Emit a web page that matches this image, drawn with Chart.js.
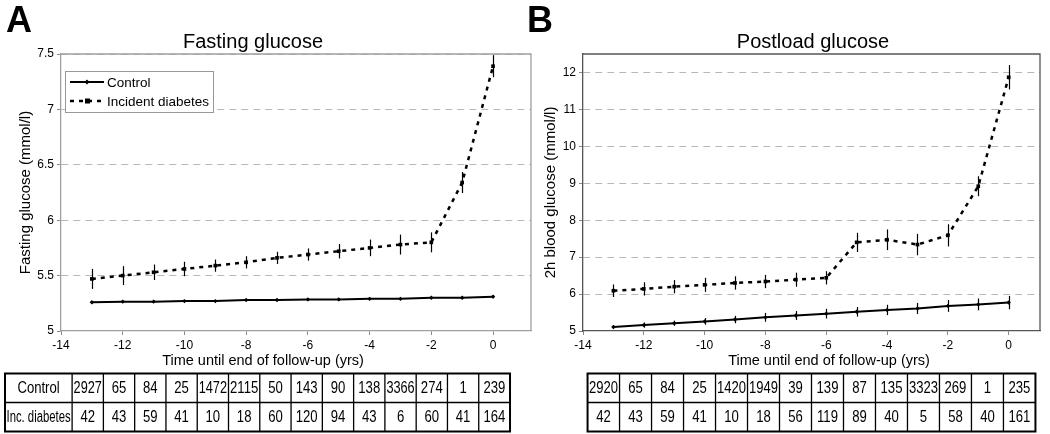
<!DOCTYPE html>
<html>
<head>
<meta charset="utf-8">
<script src="https://cdn.jsdelivr.net/npm/chart.js@4"></script>
<style>
  body { margin: 0; background: #fff; width: 1050px; height: 434px; position: relative; overflow: hidden; }
  #wrapA { position: absolute; left: 0; top: 0; }
  #wrapB { position: absolute; left: 520px; top: 0; }
</style>
</head>
<body>
<div id="wrapA"><canvas id="chartA" width="540" height="434"></canvas></div>
<div id="wrapB"><canvas id="chartB" width="530" height="434"></canvas></div>
<script>
// years before end of follow-up
var years = [-13, -12, -11, -10, -9, -8, -7, -6, -5, -4, -3, -2, -1, 0];
var xTicks = [-14, -12, -10, -8, -6, -4, -2, 0];

// A: fasting glucose (mmol/l), mean and half-width of error bar
var fastCtrl = [5.26, 5.265, 5.265, 5.27, 5.27, 5.28, 5.28, 5.285, 5.285, 5.29, 5.29, 5.30, 5.30, 5.31];
var fastCtrlErr = [0.01, 0.01, 0.01, 0.01, 0.008, 0.008, 0.01, 0.01, 0.01, 0.008, 0.008, 0.01, 0.012, 0.015];
var fastInc = [5.47, 5.50, 5.53, 5.56, 5.59, 5.62, 5.66, 5.69, 5.72, 5.75, 5.78, 5.80, 6.34, 7.39];
var fastIncErr = [0.09, 0.085, 0.07, 0.065, 0.055, 0.055, 0.055, 0.055, 0.065, 0.075, 0.09, 0.09, 0.095, 0.1];
var yTicksA = [5, 5.5, 6, 6.5, 7, 7.5];

// B: 2h postload glucose (mmol/l)
var postCtrl = [5.11, 5.16, 5.21, 5.26, 5.31, 5.37, 5.42, 5.47, 5.52, 5.57, 5.61, 5.68, 5.72, 5.77];
var postCtrlErr = [0.05, 0.07, 0.07, 0.09, 0.1, 0.12, 0.12, 0.13, 0.13, 0.14, 0.15, 0.16, 0.16, 0.18];
var postInc = [6.09, 6.14, 6.20, 6.25, 6.30, 6.34, 6.39, 6.44, 7.40, 7.47, 7.34, 7.59, 8.92, 11.87];
var postIncErr = [0.17, 0.18, 0.18, 0.19, 0.18, 0.18, 0.19, 0.18, 0.26, 0.28, 0.29, 0.3, 0.27, 0.33];
var yTicksB = [5, 6, 7, 8, 9, 10, 11, 12];

// numbers of subjects per year
var nCtrlA = [2927, 65, 84, 25, 1472, 2115, 50, 143, 90, 138, 3366, 274, 1, 239];
var nIncA = [42, 43, 59, 41, 10, 18, 60, 120, 94, 43, 6, 60, 41, 164];
var nCtrlB = [2920, 65, 84, 25, 1420, 1949, 39, 139, 87, 135, 3323, 269, 1, 235];
var nIncB = [42, 43, 59, 41, 10, 18, 56, 119, 89, 40, 5, 58, 40, 161];

var rowLabels = ['Control', 'Inc. diabetes'];
var seriesNames = ['Control', 'Incident diabetes'];

var FONT = 'Arial, "Liberation Sans", Helvetica, sans-serif';
Chart.defaults.font.family = FONT;
Chart.defaults.color = '#000';

function toPoints(vals) {
  return years.map(function (x, i) { return { x: x, y: vals[i] }; });
}

function makeDatasets(ctrl, inc) {
  return [{
    label: seriesNames[0],
    data: toPoints(ctrl),
    borderColor: '#000', backgroundColor: '#000',
    borderWidth: 2, pointStyle: 'rectRot', pointRadius: 2.2, pointBorderWidth: 0
  }, {
    label: seriesNames[1],
    data: toPoints(inc),
    borderColor: '#000', backgroundColor: '#000',
    borderWidth: 2.5, borderDash: [4, 5], pointStyle: 'rect', pointRadius: 2.6, pointBorderWidth: 0
  }];
}

// error bars, titles, legend, frame and table under the plot
function makePanel(cfg) {
  return {
    id: 'panel' + cfg.letter,
    afterDatasetsDraw: function (chart) {
      var ctx = chart.ctx, xs = chart.scales.x, ys = chart.scales.y;
      ctx.save();
      ctx.strokeStyle = '#000';
      ctx.lineWidth = 1.2;
      cfg.errors.forEach(function (errs, d) {
        chart.data.datasets[d].data.forEach(function (p, i) {
          var px = Math.round(xs.getPixelForValue(p.x)) + 0.5;
          ctx.beginPath();
          ctx.moveTo(px, ys.getPixelForValue(p.y - errs[i]));
          ctx.lineTo(px, ys.getPixelForValue(p.y + errs[i]));
          ctx.stroke();
        });
      });
      ctx.restore();
    },
    afterDraw: function (chart) {
      var ctx = chart.ctx, a = chart.chartArea, xs = chart.scales.x;
      ctx.save();

      // frame top and right
      ctx.strokeStyle = cfg.frame;
      ctx.lineWidth = 1.3;
      ctx.beginPath();
      ctx.moveTo(a.left, a.top);
      ctx.lineTo(a.right, a.top);
      ctx.lineTo(a.right, a.bottom);
      ctx.stroke();

      // panel letter and title
      ctx.fillStyle = '#000';
      ctx.textBaseline = 'alphabetic';
      ctx.textAlign = 'left';
      ctx.font = 'bold 36px ' + FONT;
      ctx.fillText(cfg.letter, cfg.letterX, 32);
      ctx.textAlign = 'center';
      ctx.font = '20px ' + FONT;
      ctx.fillText(cfg.title, cfg.titleX, 48);

      // x axis title
      ctx.font = '14.5px ' + FONT;
      ctx.textBaseline = 'middle';
      ctx.fillText('Time until end of follow-up (yrs)', cfg.xTitleX, 361);

      // legend
      if (cfg.legend) {
        var lx = 65, ly = 71, lw = 148, lh = 41;
        ctx.fillStyle = '#fff';
        ctx.fillRect(lx, ly, lw, lh);
        ctx.strokeStyle = '#999';
        ctx.lineWidth = 1;
        ctx.strokeRect(lx + 0.5, ly + 0.5, lw, lh);
        ctx.font = '13.5px ' + FONT;
        ctx.textAlign = 'left';
        ctx.fillStyle = '#000';
        chart.data.datasets.forEach(function (ds, i) {
          var cy = ly + 11 + i * 19;
          ctx.strokeStyle = '#000';
          ctx.lineWidth = ds.borderWidth;
          ctx.setLineDash(ds.borderDash || []);
          ctx.beginPath();
          ctx.moveTo(lx + 5, cy);
          ctx.lineTo(lx + 39, cy);
          ctx.stroke();
          ctx.setLineDash([]);
          if (ds.pointStyle === 'rect') {
            ctx.fillRect(lx + 20, cy - 2.5, 5, 5);
          } else {
            ctx.beginPath();
            ctx.moveTo(lx + 22, cy - 2.5); ctx.lineTo(lx + 24.5, cy);
            ctx.lineTo(lx + 22, cy + 2.5); ctx.lineTo(lx + 19.5, cy);
            ctx.closePath(); ctx.fill();
          }
          ctx.fillText(ds.label, lx + 42, cy + 1);
        });
      }

      // table with numbers of subjects
      var top = 373.5, rowH = 29, ncol = cfg.rows[0].length;
      var v0 = cfg.tableFrom, v1 = cfg.tableTo;
      var edges = [];
      for (var c = 0; c <= ncol; c++) {
        edges.push(xs.getPixelForValue(v0 + (v1 - v0) * c / ncol));
      }
      var left = cfg.labels ? cfg.labelLeft : edges[0];
      var right = edges[ncol];
      ctx.strokeStyle = '#000';
      ctx.lineWidth = 1.3;
      ctx.beginPath();
      for (var r = 1; r < cfg.rows.length; r++) {
        ctx.moveTo(left, top + r * rowH);
        ctx.lineTo(right, top + r * rowH);
      }
      var vlines = cfg.labels ? edges.slice(0, ncol) : edges.slice(1, ncol);
      vlines.forEach(function (ex) {
        ctx.moveTo(ex, top);
        ctx.lineTo(ex, top + cfg.rows.length * rowH);
      });
      ctx.stroke();
      ctx.lineWidth = 2;
      ctx.strokeRect(left, top, right - left, cfg.rows.length * rowH);

      ctx.textAlign = 'center';
      ctx.textBaseline = 'middle';
      ctx.font = '16px ' + FONT;
      ctx.fillStyle = '#000';
      function narrowText(t, cx, cy, maxW) {
        ctx.save();
        ctx.translate(cx, cy);
        var sx = 0.82;
        var w = ctx.measureText(t).width * sx;
        if (w > maxW) sx = sx * maxW / w;
        ctx.scale(sx, 1);
        ctx.fillText(t, 0, 0);
        ctx.restore();
      }
      cfg.rows.forEach(function (row, r) {
        var cy = top + r * rowH + rowH / 2 + 1;
        if (cfg.labels) {
          narrowText(cfg.labels[r], (left + edges[0]) / 2, cy, edges[0] - left - 3);
        }
        row.forEach(function (n, c) {
          narrowText(String(n), (edges[c] + edges[c + 1]) / 2, cy, edges[c + 1] - edges[c] - 3);
        });
      });
      ctx.restore();
    }
  };
}

function makeOptions(cfg) {
  return {
    responsive: false,
    animation: false,
    layout: { padding: { left: 0, right: cfg.padRight, top: 54, bottom: 61 } },
    plugins: { legend: { display: false }, title: { display: false }, tooltip: { enabled: false } },
    scales: {
      x: {
        type: 'linear', min: -14, max: cfg.xMax,
        afterBuildTicks: function (s) { s.ticks = xTicks.map(function (v) { return { value: v }; }); },
        afterFit: function (s) { s.height = 42; },
        grid: { drawOnChartArea: false, tickLength: 4, color: '#888' },
        border: { color: cfg.frame, width: 1.3 },
        ticks: {
          font: { size: 12 }, color: '#000', padding: 3, maxRotation: 0, autoSkip: false,
          callback: function (v) { return String(v); }
        }
      },
      y: {
        type: 'linear', min: 5, max: cfg.yMax,
        afterBuildTicks: function (s) { s.ticks = cfg.yTicks.map(function (v) { return { value: v }; }); },
        afterFit: function (s) { s.width = cfg.yWidth; },
        grid: {
          tickLength: 4,
          color: function (c) { return c.tick && c.tick.value === 5 ? 'rgba(0,0,0,0)' : '#b8b8b8'; },
          tickColor: '#888'
        },
        border: { color: cfg.frame, width: 1.3, dash: [7, 5] },
        ticks: {
          font: { size: 12 }, color: '#000', padding: 3,
          callback: function (v) { return String(v); }
        },
        title: {
          display: true, text: cfg.yTitle, font: { size: 15 }, color: '#000',
          padding: { top: cfg.yTitlePad, bottom: 0 }
        }
      }
    }
  };
}

var cfgA = {
  letter: 'A', letterX: 6, title: 'Fasting glucose', titleX: 253, xTitleX: 263,
  frame: '#a0a0a0', legend: true, errors: [fastCtrlErr, fastIncErr],
  rows: [nCtrlA, nIncA], labels: rowLabels, labelLeft: 5,
  tableFrom: -13.64, tableTo: 0.55,
  padRight: 9, xMax: 1.23, yMax: 7.5, yTicks: yTicksA, yWidth: 61,
  yTitle: 'Fasting glucose (mmol/l)', yTitlePad: 17
};
var cfgB = {
  letter: 'B', letterX: 7, title: 'Postload glucose', titleX: 293, xTitleX: 309,
  frame: '#555', legend: false, errors: [postCtrlErr, postIncErr],
  rows: [nCtrlB, nIncB], labels: null,
  tableFrom: -13.85, tableTo: 0.88,
  padRight: 10, xMax: 1.03, yMax: 12.5, yTicks: yTicksB, yWidth: 63,
  yTitle: '2h blood glucose (mmol/l)', yTitlePad: 22
};

new Chart(document.getElementById('chartA').getContext('2d'), {
  type: 'line',
  data: { datasets: makeDatasets(fastCtrl, fastInc) },
  options: makeOptions(cfgA),
  plugins: [makePanel(cfgA)]
});

new Chart(document.getElementById('chartB').getContext('2d'), {
  type: 'line',
  data: { datasets: makeDatasets(postCtrl, postInc) },
  options: makeOptions(cfgB),
  plugins: [makePanel(cfgB)]
});
</script>
</body>
</html>
